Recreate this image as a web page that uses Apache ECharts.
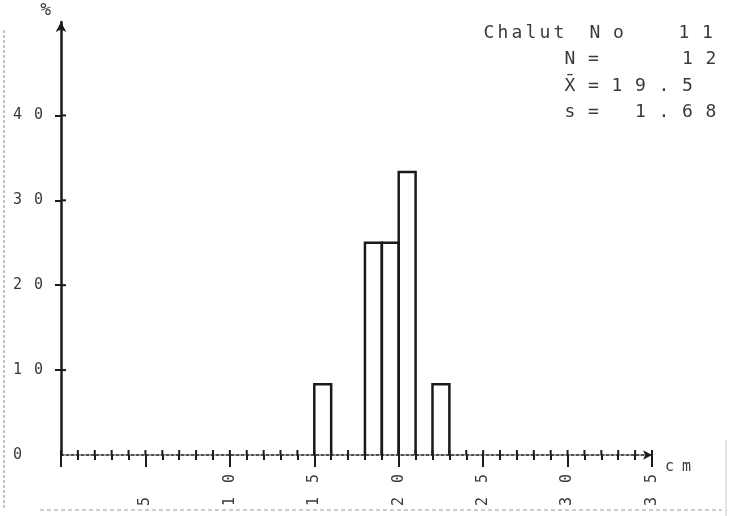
<!DOCTYPE html>
<html>
<head>
<meta charset="utf-8">
<script src="https://cdn.jsdelivr.net/npm/echarts@6/dist/echarts.min.js"></script>
<style>
  html, body { margin: 0; padding: 0; background: #fff; }
  #chart { width: 729px; height: 516px; }
</style>
</head>
<body>
<div id="chart"></div>
<script>
// histogramme des tailles, classes de 1 cm
var binStart = [15, 18, 19, 20, 22];
var percent = [8.33, 25, 25, 33.33, 8.33];
var xTicks = [5, 10, 15, 20, 25, 30, 35];
var yTicks = [0, 10, 20, 30, 40];

var ink = '#1a1a1a';
var textInk = '#3a3a3a';
var mono = 'DejaVu Sans Mono';

// graduations d'1 cm (pour la moitie interieure des croix)
var cmMarks = [];
for (var i = 0; i <= 35; i++) cmMarks.push([i, 0]);
var pctMarks = [10, 20, 30, 40].map(function (v) { return [0, v]; });

// chaque chiffre dans une case de largeur fixe (impression "espacee")
function spaced(str, pad) {
    var chars = str.split('');
    while (chars.length < pad) chars.push(' ');
    return chars.map(function (c) { return '{d|' + c + '}'; }).join('');
}

function rowText(str, xFirst, y, step, size) {
    var parts = str.match(/.\u0304?/g);
    return {
        type: 'text',
        x: xFirst - step / 2,
        y: y,
        silent: true,
        style: {
            text: parts.map(function (c) { return '{d|' + c + '}'; }).join(''),
            align: 'left',
            verticalAlign: 'middle',
            fill: textInk,
            rich: {
                d: { width: step, align: 'center', fontFamily: mono, fontSize: size, fill: textInk }
            }
        }
    };
}

var chart = echarts.init(document.getElementById('chart'));
chart.setOption({
    backgroundColor: '#fff',
    animation: false,
    grid: { left: 61, right: 77, top: 22, bottom: 61, outerBoundsMode: 'none' },
    xAxis: {
        type: 'value', min: 0, max: 35, interval: 5,
        name: '{d|c}{d|m}', nameLocation: 'end', nameGap: 9,
        nameTextStyle: {
            verticalAlign: 'top', padding: [5, 0, 0, 0],
            rich: { d: { width: 17, align: 'center', fontFamily: mono, fontSize: 15, color: textInk } }
        },
        axisLine: {
            lineStyle: { color: ink, width: 1.5, type: [3, 2] },
            symbol: ['none', 'arrow'], symbolSize: [7, 9]
        },
        axisTick: { show: true, length: 12, lineStyle: { color: ink, width: 2 } },
        minorTick: { show: true, splitNumber: 5, length: 5, lineStyle: { color: ink, width: 2 } },
        splitLine: { show: false },
        axisLabel: {
            customValues: xTicks,
            rotate: 90,
            margin: 12,
            formatter: function (v) { return spaced(String(v), 2); },
            rich: { d: { width: 23, align: 'center', fontFamily: mono, fontSize: 15, color: textInk } }
        }
    },
    yAxis: {
        type: 'value', min: 0, max: 51, interval: 10,
        name: '%', nameLocation: 'end', nameGap: 3,
        nameTextStyle: { fontFamily: mono, fontSize: 18, color: textInk, align: 'right', padding: [0, 10, 0, 0] },
        axisLine: {
            show: true,
            lineStyle: { color: ink, width: 2.5 },
            symbol: ['none', 'arrow'], symbolSize: [8, 10]
        },
        axisTick: { show: true, length: 6, customValues: [10, 20, 30, 40], lineStyle: { color: ink, width: 2 } },
        splitLine: { show: false },
        axisLabel: {
            customValues: yTicks,
            align: 'left',
            margin: 54,
            formatter: function (v) { return spaced(String(v), 1); },
            rich: { d: { width: 21, align: 'center', fontFamily: mono, fontSize: 15, color: textInk } }
        }
    },
    series: [
        {
            type: 'custom',
            clip: false,
            data: binStart.map(function (s, i) { return [s, s + 1, percent[i]]; }),
            encode: { x: [0, 1], y: 2 },
            renderItem: function (params, api) {
                var a = api.coord([api.value(0), 0]);
                var b = api.coord([api.value(1), api.value(2)]);
                return {
                    type: 'polyline',
                    shape: { points: [[a[0], a[1]], [a[0], b[1]], [b[0], b[1]], [b[0], a[1]]] },
                    style: { fill: 'none', stroke: ink, lineWidth: 2.5 }
                };
            }
        },
        {
            // moitie haute des croix de l'axe x
            type: 'custom',
            silent: true,
            clip: false,
            data: cmMarks,
            encode: { x: 0, y: 1 },
            renderItem: function (params, api) {
                var c = api.coord([api.value(0), api.value(1)]);
                return { type: 'line', shape: { x1: c[0], y1: c[1] - 5, x2: c[0], y2: c[1] }, style: { stroke: ink, lineWidth: 2 } };
            }
        },
        {
            // moitie droite des croix de l'axe y
            type: 'custom',
            silent: true,
            clip: false,
            data: pctMarks,
            encode: { x: 0, y: 1 },
            renderItem: function (params, api) {
                var c = api.coord([api.value(0), api.value(1)]);
                return { type: 'line', shape: { x1: c[0], y1: c[1], x2: c[0] + 5, y2: c[1] }, style: { stroke: ink, lineWidth: 2 } };
            }
        }
    ],
    graphic: [
        rowText('Chalut', 489, 33, 14, 18),
        rowText('No', 595, 33, 23.5, 18),
        rowText('11', 684, 33, 23.5, 18),
        rowText('N=   12', 570, 59, 23.5, 18),
        rowText('X\u0304=19.5', 570, 86, 23.5, 18),
        rowText('s= 1.68', 570, 112, 23.5, 18),
        // bords de la feuille scannee
        { type: 'line', silent: true, shape: { x1: 4, y1: 30, x2: 4, y2: 510 }, style: { stroke: '#8a8a8a', lineWidth: 1, lineDash: [3, 2] } },
        { type: 'line', silent: true, shape: { x1: 40, y1: 510, x2: 722, y2: 510 }, style: { stroke: '#9a9a9a', lineWidth: 1, lineDash: [4, 3] } },
        { type: 'line', silent: true, shape: { x1: 726, y1: 440, x2: 726, y2: 516 }, style: { stroke: '#c8c8c8', lineWidth: 1 } }
    ]
});
</script>
</body>
</html>
